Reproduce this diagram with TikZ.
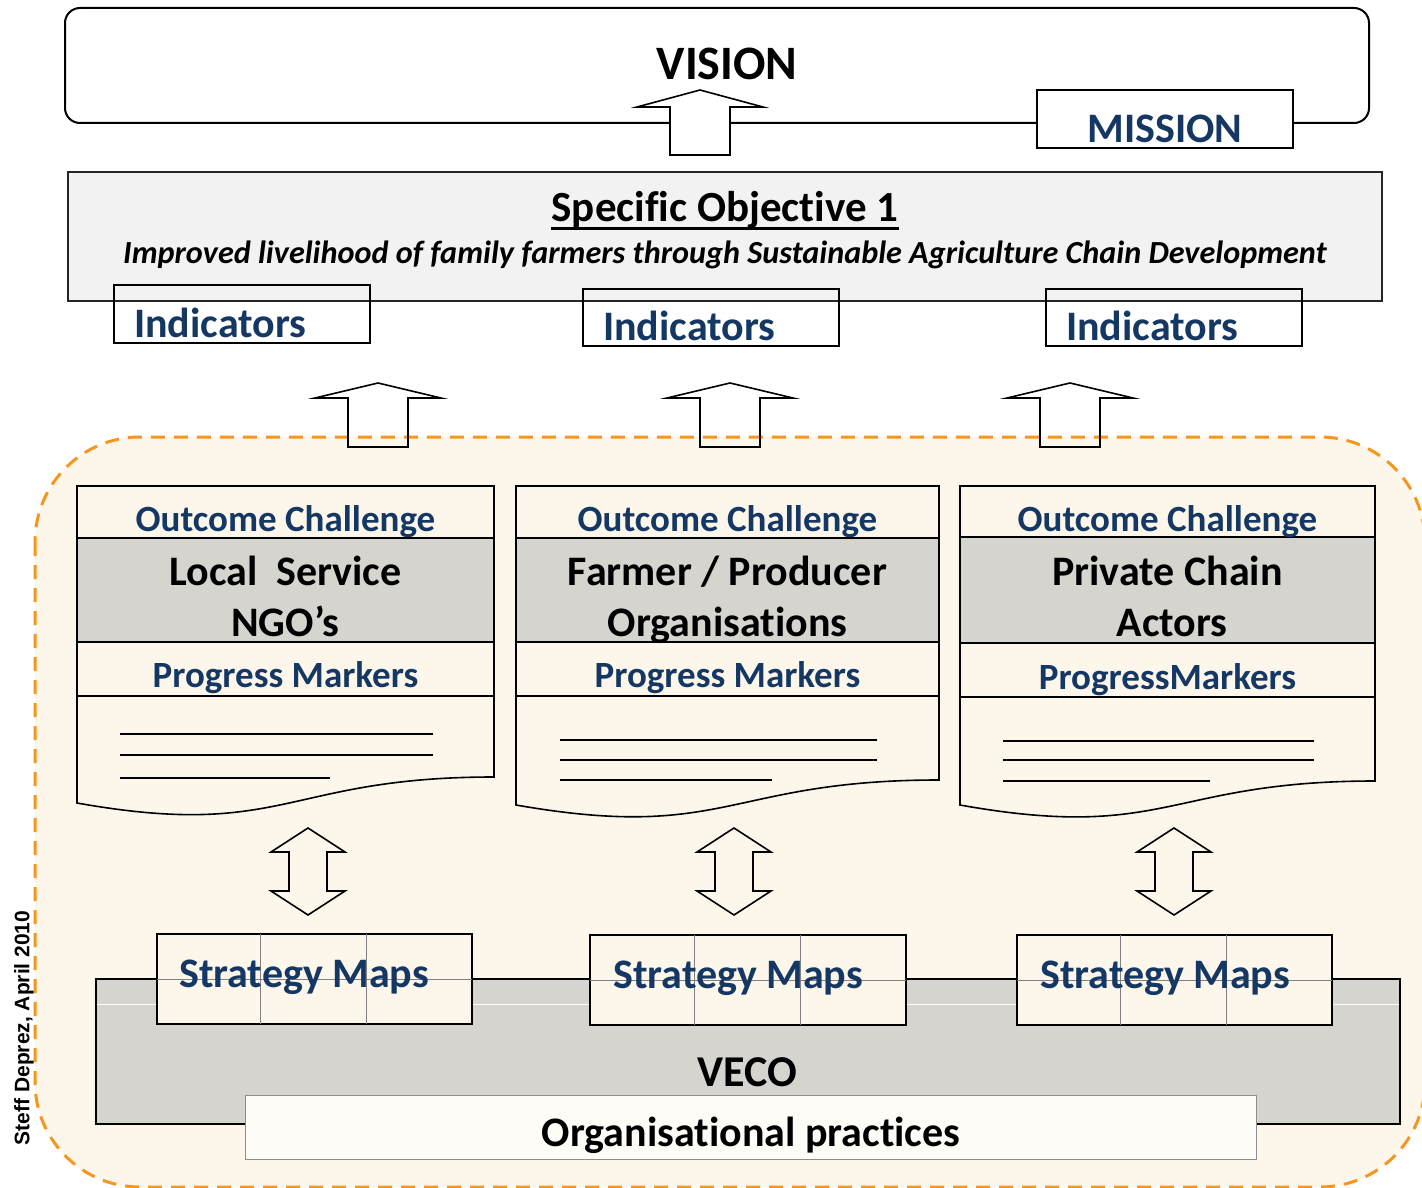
\documentclass[tikz,border=0pt]{standalone}
\usepackage{fontspec}
\setmainfont{Carlito}[Ligatures=CommonOff]
\newfontfamily\notefont{Liberation Sans}
\usetikzlibrary{positioning,backgrounds}
\definecolor{vecoblue}{RGB}{20,55,100}
\definecolor{vecoorange}{RGB}{247,150,30}
\definecolor{vecocream}{RGB}{253,247,235}
\definecolor{vecogray}{RGB}{214,212,206}

\begin{document}
\begin{tikzpicture}[x=1pt,y=-1pt,
	box/.style={draw=black, line width=2, inner sep=0},
	txt/.style={inner sep=0, anchor=base},
	big/.style={txt, font=\fontsize{42}{51}\selectfont\bfseries},
	bluetxt/.style={big, text=vecoblue},
	doc/.style={draw=black, line width=1.6},
	blockarrow/.style={draw=black, line width=1.6, line join=miter}]
	\useasboundingbox (0,0) rectangle (1422,1188);

	% vision / mission
	\node[box, rounded corners=15, minimum width=1304, minimum height=115] (vision) at (717,65.5) {};
	\node[txt, font=\fontsize{48}{58}\selectfont\bfseries] (visiontxt) at (727,80) {VISION};
	\draw[blockarrow, fill=white] (670,155) -- (670,107) -- (637,107) -- (700,90) -- (763,107) -- (730,107) -- (730,155) -- cycle;
	\node[box, fill=white, minimum width=256, minimum height=58] (mission) at (1165,119) {};
	\node[bluetxt] (missiontxt) at (1165,143) {MISSION};

	% specific objective
	\node[box, draw=black!85, fill=black!5, minimum width=1314, minimum height=129] (so) at (725,236.5) {};
	\node[big, font=\fontsize{43}{52}\selectfont\bfseries] (sotitle) at (725,222) {Specific Objective 1};
	\draw[line width=2.6] ([yshift=-6.5pt]sotitle.base west) -- ([yshift=-6.5pt]sotitle.base east);
	\node[txt, font=\fontsize{32.2}{38}\selectfont\bfseries\itshape] (sotext) at (725,263) {Improved livelihood of family farmers through Sustainable Agriculture Chain Development};

	\node[box, minimum width=256, minimum height=58] (ind1) at (242,314) {};
	\node[box, minimum width=256, minimum height=57] (ind2) at (711,317.5) {};
	\node[box, minimum width=256, minimum height=57] (ind3) at (1174,317.5) {};
	\node[bluetxt, anchor=base west] (ind1txt) at (134,337) {Indicators};
	\node[bluetxt, anchor=base west] (ind2txt) at (603,340) {Indicators};
	\node[bluetxt, anchor=base west] (ind3txt) at (1066,340) {Indicators};

	% boundary of the programme
	\draw[vecoorange, line width=3, dash pattern=on 14pt off 9pt, fill=vecocream, rounded corners=105] (35,437) rectangle (1425,1187);

	\begin{scope}[xshift=378]
		\draw[blockarrow] (-30,447) -- (-30,398) -- (-63,398) -- (0,383) -- (63,398) -- (30,398) -- (30,447) -- cycle;
	\end{scope}
	\begin{scope}[xshift=730]
		\draw[blockarrow] (-30,447) -- (-30,398) -- (-63,398) -- (0,383) -- (63,398) -- (30,398) -- (30,447) -- cycle;
	\end{scope}
	\begin{scope}[xshift=1070]
		\draw[blockarrow] (-30,447) -- (-30,398) -- (-63,398) -- (0,383) -- (63,398) -- (30,398) -- (30,447) -- cycle;
	\end{scope}

	% outcome challenges
	\fill[vecogray] (77,538) rectangle (494,642);
	\draw[doc] (77,486) -- (494,486) -- (494,777) .. controls (285,777) and (285,840) .. (77,803) -- cycle;
	\draw[doc] (77,538) -- (494,538) (77,642) -- (494,642) (77,696) -- (494,696);
	\draw[line width=1.6] (120,734) -- (433,734) (120,755) -- (433,755) (120,778) -- (330,778);
	\node[bluetxt, font=\fontsize{37}{44}\selectfont\bfseries] (oc1) at (285.5,531) {Outcome Challenge};
	\node[big] (actor1a) at (285.5,585) {Local\ \ Service};
	\node[big] (actor1b) at (285.5,636) {NGO’s};
	\node[bluetxt, font=\fontsize{37}{44}\selectfont\bfseries] (pm1) at (285.5,687) {Progress Markers};

	\fill[vecogray] (516,538) rectangle (939,642);
	\draw[doc] (516,486) -- (939,486) -- (939,780) .. controls (727,780) and (727,842) .. (516,805) -- cycle;
	\draw[doc] (516,538) -- (939,538) (516,642) -- (939,642) (516,696) -- (939,696);
	\draw[line width=1.6] (560,740) -- (877,740) (560,760) -- (877,760) (560,780) -- (772,780);
	\node[bluetxt, font=\fontsize{37}{44}\selectfont\bfseries] (oc2) at (727.5,531) {Outcome Challenge};
	\node[big] (actor2a) at (727.5,585) {Farmer / Producer};
	\node[big] (actor2b) at (727.5,636) {Organisations};
	\node[bluetxt, font=\fontsize{37}{44}\selectfont\bfseries] (pm2) at (727.5,687) {Progress Markers};

	\fill[vecogray] (960,537) rectangle (1375,643);
	\draw[doc] (960,486) -- (1375,486) -- (1375,781) .. controls (1167,781) and (1167,842) .. (960,805) -- cycle;
	\draw[doc] (960,537) -- (1375,537) (960,643) -- (1375,643) (960,697) -- (1375,697);
	\draw[line width=1.6] (1003,741) -- (1314,741) (1003,760) -- (1314,760) (1003,781) -- (1210,781);
	\node[bluetxt, font=\fontsize{37}{44}\selectfont\bfseries] (oc3) at (1167.5,531) {Outcome Challenge};
	\node[big] (actor3a) at (1167.5,585) {Private Chain};
	\node[big] (actor3b) at (1172,636) {Actors};
	\node[bluetxt, font=\fontsize{37}{44}\selectfont\bfseries] (pm3) at (1167.5,689) {ProgressMarkers};

	% two-way links
	\begin{scope}[xshift=308]
		\draw[blockarrow] (-19,852) -- (-37,852) -- (0,828) -- (37,852) -- (19,852) -- (19,891) -- (37,891) -- (0,915) -- (-37,891) -- (-19,891) -- cycle;
	\end{scope}
	\begin{scope}[xshift=734]
		\draw[blockarrow] (-19,852) -- (-37,852) -- (0,828) -- (37,852) -- (19,852) -- (19,891) -- (37,891) -- (0,915) -- (-37,891) -- (-19,891) -- cycle;
	\end{scope}
	\begin{scope}[xshift=1174]
		\draw[blockarrow] (-19,852) -- (-37,852) -- (0,828) -- (37,852) -- (19,852) -- (19,891) -- (37,891) -- (0,915) -- (-37,891) -- (-19,891) -- cycle;
	\end{scope}

	% VECO
	\node[box, fill=vecogray, minimum width=1304, minimum height=145] (veco) at (748,1051.5) {};
	\draw[white, line width=1] (97,1004) -- (1399,1004);
	\node[big, font=\fontsize{44}{53}\selectfont\bfseries] (vecotxt) at (747,1086) {VECO};
	\node[draw=black!45, line width=1, fill=vecocream!40!white, minimum width=1011, minimum height=64] (practices) at (750.5,1127) {};
	\node[big] (practicestxt) at (751,1146) {Organisational practices};

	\node[box, fill=vecocream, minimum width=315, minimum height=90] (sm1) at (314.5,979) {};
	\node[box, fill=vecocream, minimum width=316, minimum height=90] (sm2) at (748,980) {};
	\node[box, fill=vecocream, minimum width=315, minimum height=90] (sm3) at (1174.5,980) {};
	\draw[black!50, line width=1] (157,979) -- (472,979) (260,934) -- (260,1024) (366,934) -- (366,1024);
	\draw[black!50, line width=1] (590,980) -- (906,980) (694,935) -- (694,1025) (800,935) -- (800,1025);
	\draw[black!50, line width=1] (1017,980) -- (1332,980) (1120,935) -- (1120,1025) (1226,935) -- (1226,1025);
	\node[bluetxt, anchor=base west] (sm1txt) at (179,987) {Strategy Maps};
	\node[bluetxt, anchor=base west] (sm2txt) at (613,988) {Strategy Maps};
	\node[bluetxt, anchor=base west] (sm3txt) at (1040,988) {Strategy Maps};

	\node[rotate=90, inner sep=0, font=\notefont\bfseries\fontsize{21}{25}\selectfont] (author) at (24,1028) {Steff Deprez, April 2010};
\end{tikzpicture}
\end{document}
